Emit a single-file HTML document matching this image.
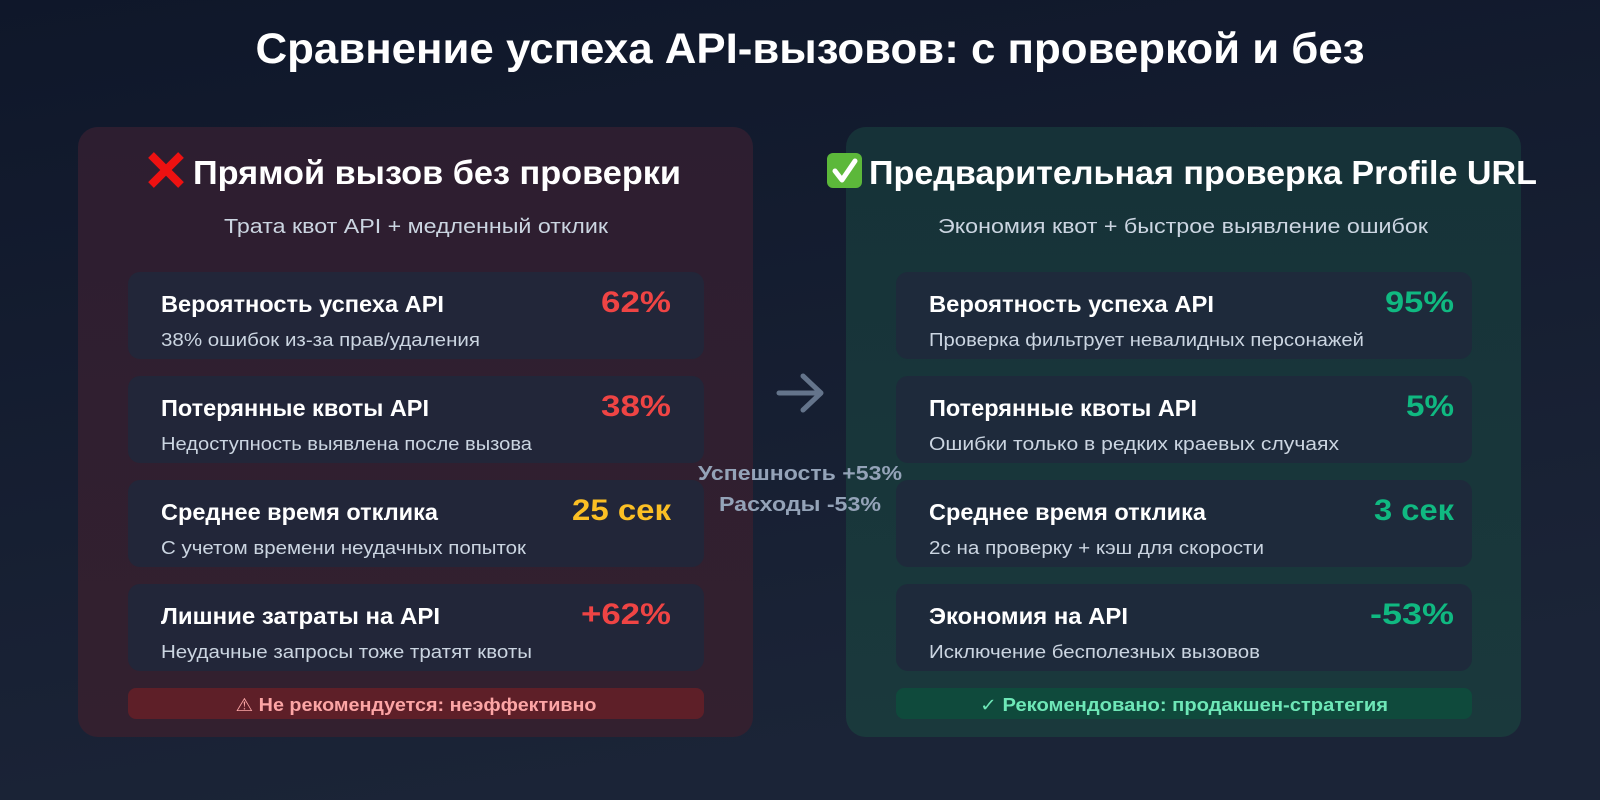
<!DOCTYPE html>
<html>
<head>
<meta charset="utf-8">
<style>
  html,body{margin:0;padding:0;background:#0f172a;}
  svg{display:block;}
  text{font-family:"Liberation Sans","DejaVu Sans",sans-serif;}
</style>
</head>
<body>
<svg width="1600" height="800" viewBox="0 0 1600 800" xmlns="http://www.w3.org/2000/svg">
  <defs>
    <linearGradient id="bg" x1="0" y1="0" x2="0.3" y2="1">
      <stop offset="0" stop-color="#0f172a"/>
      <stop offset="1" stop-color="#1b2437"/>
    </linearGradient>
    <linearGradient id="lp" x1="0" y1="0" x2="0" y2="1">
      <stop offset="0" stop-color="#2d1e30"/>
      <stop offset="1" stop-color="#33202f"/>
    </linearGradient>
    <linearGradient id="rp" x1="0" y1="0" x2="0" y2="1">
      <stop offset="0" stop-color="#163238"/>
      <stop offset="1" stop-color="#1a393c"/>
    </linearGradient>
  </defs>

  <rect x="0" y="0" width="1600" height="800" fill="url(#bg)"/>

  <!-- Title -->
  <text x="810" y="63" text-anchor="middle" font-size="43" font-weight="bold" fill="#ffffff" textLength="1109" lengthAdjust="spacingAndGlyphs">Сравнение успеха API-вызовов: с проверкой и без</text>

  <!-- Panels -->
  <rect x="78" y="127" width="675" height="610" rx="20" fill="url(#lp)"/>
  <rect x="846" y="127" width="675" height="610" rx="20" fill="url(#rp)"/>

  <!-- Left heading -->
  <g>
    <line x1="151" y1="155" x2="181" y2="185" stroke="#ee1111" stroke-width="8"/>
    <line x1="181" y1="155" x2="151" y2="185" stroke="#ee1111" stroke-width="8"/>
  </g>
  <text x="193" y="184" font-size="33" font-weight="bold" fill="#ffffff" textLength="488" lengthAdjust="spacingAndGlyphs">Прямой вызов без проверки</text>
  <text x="416" y="233" text-anchor="middle" font-size="20" fill="#cbd5e1" textLength="384" lengthAdjust="spacingAndGlyphs">Трата квот API + медленный отклик</text>

  <!-- Right heading -->
  <rect x="827" y="153" width="35" height="35" rx="6" fill="#5cb83a"/>
  <path d="M835 171 L842 180 L855 161" fill="none" stroke="#ffffff" stroke-width="5" stroke-linecap="round" stroke-linejoin="round"/>
  <text x="869" y="184" font-size="33" font-weight="bold" fill="#ffffff" textLength="668" lengthAdjust="spacingAndGlyphs">Предварительная проверка Profile URL</text>
  <text x="1183" y="233" text-anchor="middle" font-size="20" fill="#cbd5e1" textLength="490" lengthAdjust="spacingAndGlyphs">Экономия квот + быстрое выявление ошибок</text>

  <!-- Left cards -->
  <g>
    <rect x="128" y="272" width="576" height="87" rx="12" fill="#222639"/>
    <text x="161" y="312" font-size="23.5" font-weight="bold" fill="#ffffff" textLength="283" lengthAdjust="spacingAndGlyphs">Вероятность успеха API</text>
    <text x="161" y="346" font-size="18" fill="#cbd5e1" textLength="319" lengthAdjust="spacingAndGlyphs">38% ошибок из-за прав/удаления</text>
    <text x="671" y="312" text-anchor="end" font-size="30" font-weight="bold" fill="#ef4444" textLength="70" lengthAdjust="spacingAndGlyphs">62%</text>

    <rect x="128" y="376" width="576" height="87" rx="12" fill="#222639"/>
    <text x="161" y="416" font-size="23.5" font-weight="bold" fill="#ffffff">Потерянные квоты API</text>
    <text x="161" y="450" font-size="18" fill="#cbd5e1" textLength="371" lengthAdjust="spacingAndGlyphs">Недоступность выявлена после вызова</text>
    <text x="671" y="416" text-anchor="end" font-size="30" font-weight="bold" fill="#ef4444" textLength="70" lengthAdjust="spacingAndGlyphs">38%</text>

    <rect x="128" y="480" width="576" height="87" rx="12" fill="#222639"/>
    <text x="161" y="520" font-size="23.5" font-weight="bold" fill="#ffffff">Среднее время отклика</text>
    <text x="161" y="554" font-size="18" fill="#cbd5e1" textLength="365" lengthAdjust="spacingAndGlyphs">С учетом времени неудачных попыток</text>
    <text x="671" y="520" text-anchor="end" font-size="30" font-weight="bold" fill="#fbbf24" textLength="99" lengthAdjust="spacingAndGlyphs">25 сек</text>

    <rect x="128" y="584" width="576" height="87" rx="12" fill="#222639"/>
    <text x="161" y="624" font-size="23.5" font-weight="bold" fill="#ffffff" textLength="279" lengthAdjust="spacingAndGlyphs">Лишние затраты на API</text>
    <text x="161" y="658" font-size="18" fill="#cbd5e1" textLength="371" lengthAdjust="spacingAndGlyphs">Неудачные запросы тоже тратят квоты</text>
    <text x="671" y="624" text-anchor="end" font-size="30" font-weight="bold" fill="#ef4444" textLength="90" lengthAdjust="spacingAndGlyphs">+62%</text>

    <rect x="128" y="688" width="576" height="31" rx="8" fill="#5e1f28"/>
    <text x="416" y="711" text-anchor="middle" font-size="18" font-weight="bold" fill="#fca5a5" textLength="361" lengthAdjust="spacingAndGlyphs">⚠ Не рекомендуется: неэффективно</text>
  </g>

  <!-- Right cards -->
  <g>
    <rect x="896" y="272" width="576" height="87" rx="12" fill="#1e2a3b"/>
    <text x="929" y="312" font-size="23.5" font-weight="bold" fill="#ffffff" textLength="285" lengthAdjust="spacingAndGlyphs">Вероятность успеха API</text>
    <text x="929" y="346" font-size="18" fill="#cbd5e1" textLength="435" lengthAdjust="spacingAndGlyphs">Проверка фильтрует невалидных персонажей</text>
    <text x="1454" y="312" text-anchor="end" font-size="30" font-weight="bold" fill="#10b981" textLength="69" lengthAdjust="spacingAndGlyphs">95%</text>

    <rect x="896" y="376" width="576" height="87" rx="12" fill="#1e2a3b"/>
    <text x="929" y="416" font-size="23.5" font-weight="bold" fill="#ffffff">Потерянные квоты API</text>
    <text x="929" y="450" font-size="18" fill="#cbd5e1" textLength="410" lengthAdjust="spacingAndGlyphs">Ошибки только в редких краевых случаях</text>
    <text x="1454" y="416" text-anchor="end" font-size="30" font-weight="bold" fill="#10b981" textLength="48" lengthAdjust="spacingAndGlyphs">5%</text>

    <rect x="896" y="480" width="576" height="87" rx="12" fill="#1e2a3b"/>
    <text x="929" y="520" font-size="23.5" font-weight="bold" fill="#ffffff">Среднее время отклика</text>
    <text x="929" y="554" font-size="18" fill="#cbd5e1" textLength="335" lengthAdjust="spacingAndGlyphs">2с на проверку + кэш для скорости</text>
    <text x="1454" y="520" text-anchor="end" font-size="30" font-weight="bold" fill="#10b981" textLength="80" lengthAdjust="spacingAndGlyphs">3 сек</text>

    <rect x="896" y="584" width="576" height="87" rx="12" fill="#1e2a3b"/>
    <text x="929" y="624" font-size="23.5" font-weight="bold" fill="#ffffff" textLength="199" lengthAdjust="spacingAndGlyphs">Экономия на API</text>
    <text x="929" y="658" font-size="18" fill="#cbd5e1" textLength="331" lengthAdjust="spacingAndGlyphs">Исключение бесполезных вызовов</text>
    <text x="1454" y="624" text-anchor="end" font-size="30" font-weight="bold" fill="#10b981" textLength="84" lengthAdjust="spacingAndGlyphs">-53%</text>

    <rect x="896" y="688" width="576" height="31" rx="8" fill="#0f4a3c"/>
    <text x="1184" y="711" text-anchor="middle" font-size="18" font-weight="bold" fill="#6ee7b7" textLength="408" lengthAdjust="spacingAndGlyphs">✓ Рекомендовано: продакшен-стратегия</text>
  </g>

  <!-- Middle arrow + text -->
  <g stroke="#64748b" stroke-width="5" stroke-linecap="round" stroke-linejoin="round" fill="none">
    <line x1="779" y1="393" x2="820" y2="393"/>
    <polyline points="803,376 821,393 803,410"/>
  </g>
  <text x="800" y="480" text-anchor="middle" font-size="20.5" font-weight="bold" fill="#94a3b8" textLength="204" lengthAdjust="spacingAndGlyphs">Успешность +53%</text>
  <text x="800" y="511" text-anchor="middle" font-size="20.5" font-weight="bold" fill="#94a3b8" textLength="162" lengthAdjust="spacingAndGlyphs">Расходы -53%</text>
</svg>
</body>
</html>
